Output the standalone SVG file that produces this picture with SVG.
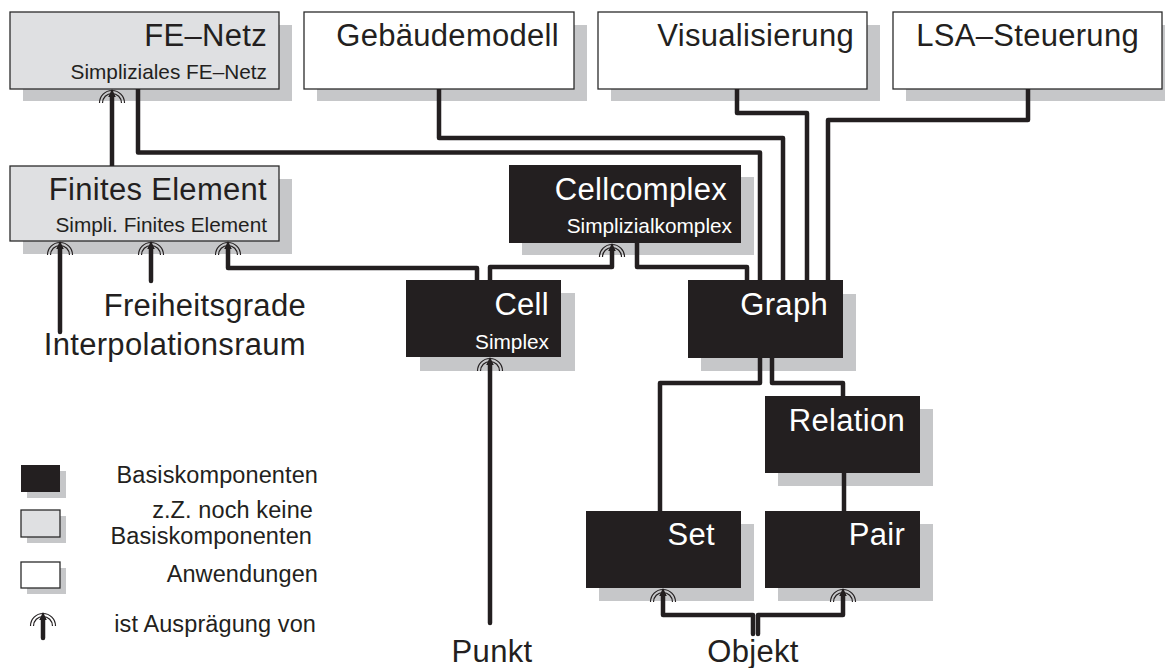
<svg xmlns="http://www.w3.org/2000/svg" xmlns:xlink="http://www.w3.org/1999/xlink" width="1165" height="668" viewBox="0 0 1165 668">
<style>
text { font-family: "Liberation Sans", Arial, Helvetica, sans-serif; fill: #231f20; text-anchor: end; }
.t { font-size: 31px; letter-spacing: 0.3px; }
.s { font-size: 20.8px; }
.w { fill: #ffffff; }
.m { text-anchor: middle; }
.lg { font-size: 23.5px; letter-spacing: 0.1px; }
.sh { fill: #c6c7c9; }
.bg { fill: #dfe0e2; stroke: #2b2b2b; stroke-width: 1.3; }
.bw { fill: #ffffff; stroke: #2b2b2b; stroke-width: 1.3; }
.bb { fill: #231f20; }
.c { fill: none; stroke: #231f20; stroke-width: 4.5; stroke-linejoin: round; stroke-linecap: butt; }
.free { stroke-linecap: round; }
.arc { fill: none; stroke: #231f20; stroke-width: 1.2; }
</style>
<defs>
<g id="isa">
<path class="arc" d="M-12.5,14 A12.5,12.5 0 0 1 12.5,14"/>
<path class="arc" d="M-9.5,14 A9.5,9.5 0 0 1 9.5,14"/>
<path d="M-3.8,8 L0,0 L3.8,8 Z" fill="#231f20"/>
</g>
</defs>

<g id="fe-netz">
<rect class="sh" x="23" y="25" width="269" height="76"/>
<rect class="bg" x="10" y="12" width="269" height="77"/>
<text class="t" x="267" y="46">FE–Netz</text>
<text class="s" x="267" y="79">Simpliziales FE–Netz</text>
</g>
<g id="gebaeudemodell">
<rect class="sh" x="317" y="25" width="270" height="76"/>
<rect class="bw" x="304" y="12" width="270" height="77"/>
<text class="t" x="559" y="46">Gebäudemodell</text>
</g>
<g id="visualisierung">
<rect class="sh" x="611" y="25" width="269" height="76"/>
<rect class="bw" x="598" y="12" width="269" height="77"/>
<text class="t" x="854" y="46">Visualisierung</text>
</g>
<g id="lsa-steuerung">
<rect class="sh" x="906" y="25" width="269" height="76"/>
<rect class="bw" x="893" y="12" width="269" height="77"/>
<text class="t" x="1139" y="46">LSA–Steuerung</text>
</g>
<g id="finites-element">
<rect class="sh" x="23" y="179" width="269" height="75"/>
<rect class="bg" x="10" y="166" width="269" height="75"/>
<text class="t" x="267" y="200">Finites Element</text>
<text class="s" x="267" y="232">Simpli. Finites Element</text>
</g>
<g id="cellcomplex">
<rect class="sh" x="522" y="177" width="232" height="78"/>
<rect class="bb" x="509" y="165" width="232" height="78"/>
<text class="t w" x="727" y="200">Cellcomplex</text>
<text class="s w" x="732" y="233">Simplizialkomplex</text>
</g>
<g id="cell">
<rect class="sh" x="420" y="293" width="155" height="78"/>
<rect class="bb" x="406" y="280" width="155" height="77"/>
<text class="t w" x="549" y="315">Cell</text>
<text class="s w" x="549" y="349">Simplex</text>
</g>
<g id="graph">
<rect class="sh" x="701" y="294" width="155" height="77"/>
<rect class="bb" x="688" y="280" width="155" height="78"/>
<text class="t w" x="828" y="315">Graph</text>
</g>
<g id="relation">
<rect class="sh" x="778" y="409" width="155" height="77"/>
<rect class="bb" x="765" y="396" width="155" height="77"/>
<text class="t w" x="905" y="431">Relation</text>
</g>
<g id="set">
<rect class="sh" x="599" y="524" width="155" height="77"/>
<rect class="bb" x="586" y="511" width="155" height="77"/>
<text class="t w" x="715" y="545">Set</text>
</g>
<g id="pair">
<rect class="sh" x="778" y="524" width="155" height="77"/>
<rect class="bb" x="765" y="511" width="155" height="77"/>
<text class="t w" x="905" y="545">Pair</text>
</g>
<g id="freiheitsgrade"><text class="t" x="306" y="316">Freiheitsgrade</text></g>
<g id="interpolationsraum"><text class="t" x="306" y="355">Interpolationsraum</text></g>
<g id="punkt"><text class="t m" x="492" y="662">Punkt</text></g>
<g id="objekt"><text class="t m" x="753" y="662">Objekt</text></g>

<g id="connectors">
<path class="c" d="M112,95 V166"/>
<use xlink:href="#isa" x="112" y="89"/>
<path class="c" d="M138,89 V152.5 H760 V281"/>
<path class="c" d="M439,89 V138 H783 V281"/>
<path class="c" d="M737,89 V113 H807 V281"/>
<path class="c" d="M1028,89 V120 H828 V281"/>
<path class="c" d="M637,242 V267 H747 V281"/>
<path class="c" d="M490,281 V267 H612 V249"/>
<use xlink:href="#isa" x="612" y="243"/>
<path class="c" d="M228,247 V268 H477 V281"/>
<use xlink:href="#isa" x="228" y="241"/>
<path class="c free" d="M60,247 V332"/>
<use xlink:href="#isa" x="60" y="241"/>
<path class="c free" d="M151,247 V281"/>
<use xlink:href="#isa" x="151" y="241"/>
<path class="c free" d="M490,363 V623"/>
<use xlink:href="#isa" x="490" y="357"/>
<path class="c" d="M760,357 V383 H660 V512"/>
<path class="c" d="M772,357 V383 H843 V397"/>
<path class="c" d="M844,472 V512"/>
<path class="c free" d="M663,594 V615 H753 V634"/>
<use xlink:href="#isa" x="663" y="588"/>
<path class="c free" d="M843,594 V615 H758 V634"/>
<use xlink:href="#isa" x="843" y="588"/>
</g>

<g id="legend">
<rect class="sh" x="27" y="471" width="39" height="27"/>
<rect class="bb" x="21" y="465" width="39" height="27"/>
<rect class="sh" x="27" y="516" width="39" height="27"/>
<rect class="bg" x="21" y="510" width="39" height="27"/>
<rect class="sh" x="27" y="568" width="39" height="26"/>
<rect class="bw" x="21" y="562" width="39" height="26"/>
<path class="c free" d="M43,618 V638"/>
<use xlink:href="#isa" x="43" y="612"/>
<text class="lg" x="318" y="483">Basiskomponenten</text>
<text class="lg" x="313" y="518">z.Z. noch keine</text>
<text class="lg" x="312" y="544">Basiskomponenten</text>
<text class="lg" x="318" y="582">Anwendungen</text>
<text class="lg" x="316" y="632">ist Ausprägung von</text>
</g>
</svg>
